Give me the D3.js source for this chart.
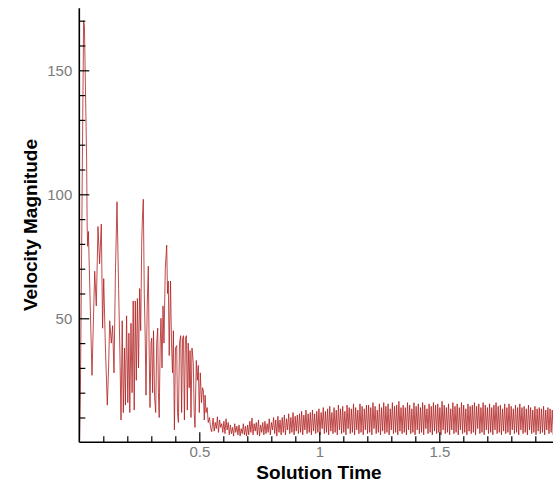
<!DOCTYPE html>
<html lang="en">
<head>
    <meta charset="UTF-8">
    <title>Velocity Magnitude vs Solution Time</title>
    <script src="https://d3js.org/d3.v7.min.js"></script>
    <style>
        body { margin: 0; background: #fff; }
        .tick text { font-family: "Liberation Sans", Arial, sans-serif; font-size: 15px; fill: #7a7a7a; }
        .title { font-family: "Liberation Sans", Arial, sans-serif; font-size: 19px; font-weight: bold; fill: #000; }
    </style>
</head>
<body>
<div class="chart"></div>
<script>
    var width = 553;
    var height = 485;

    // burst phase: [solution time, velocity magnitude]
    var burstPhase = [
        [0.0013, 1], [0.0046, 20], [0.0179, 170], [0.0213, 168], [0.0304, 115], [0.0329, 86],
        [0.0350, 79], [0.0379, 85], [0.0529, 27], [0.0642, 69], [0.0708, 55], [0.0779, 87],
        [0.0846, 72], [0.0917, 88], [0.0971, 46], [0.1017, 66], [0.1083, 40], [0.1167, 15],
        [0.1221, 30], [0.1267, 49], [0.1333, 40], [0.1388, 47], [0.1446, 28], [0.1508, 70],
        [0.1571, 97], [0.1638, 62], [0.1692, 36], [0.1738, 9], [0.1788, 49], [0.1833, 12],
        [0.1883, 38], [0.1921, 15], [0.1971, 51], [0.2021, 16], [0.2067, 44], [0.2104, 12],
        [0.2154, 48], [0.2200, 20], [0.2246, 57], [0.2288, 13], [0.2333, 57], [0.2375, 25],
        [0.2421, 58], [0.2467, 30], [0.2513, 62], [0.2558, 45], [0.2600, 80], [0.2629, 90],
        [0.2667, 98], [0.2708, 60], [0.2750, 40], [0.2779, 19], [0.2829, 55], [0.2875, 71],
        [0.2913, 35], [0.2946, 14], [0.2988, 40], [0.3017, 42], [0.3054, 20], [0.3092, 45],
        [0.3138, 18], [0.3183, 12], [0.3225, 40], [0.3267, 46], [0.3296, 20], [0.3329, 10],
        [0.3371, 40], [0.3404, 50], [0.3446, 30], [0.3488, 55], [0.3529, 40], [0.3583, 70],
        [0.3642, 79.5], [0.3675, 60], [0.3708, 65], [0.3746, 35], [0.3800, 65], [0.3842, 40],
        [0.3883, 28], [0.3921, 45], [0.3963, 5], [0.4008, 38], [0.4058, 39], [0.4092, 12],
        [0.4129, 8], [0.4175, 40], [0.4225, 43], [0.4263, 12], [0.4304, 42], [0.4342, 43],
        [0.4379, 9], [0.4421, 42], [0.4463, 43], [0.4500, 13], [0.4538, 40], [0.4579, 22],
        [0.4617, 37], [0.4654, 10], [0.4696, 38], [0.4750, 32], [0.4787, 12], [0.4821, 6],
        [0.4875, 33], [0.4917, 25], [0.4958, 31], [0.5000, 12], [0.5042, 28], [0.5092, 16],
        [0.5133, 22], [0.5167, 21], [0.5208, 9], [0.5242, 19], [0.5279, 12], [0.5329, 14],
        [0.5371, 8], [0.5425, 10], [0.5467, 6], [0.5517, 4.3]
    ];

    // settled phase: evenly sampled output, one value every settledStep
    var settledStart = 0.5575;
    var settledStep = 0.0045;
    var settledPhase = [
        9.8, 4.5, 8, 5.5, 10.3, 4, 9, 6, 7.5, 4, 8.5, 3.5, 9.5, 5, 8, 3,
        7, 3.5, 6, 2.5, 7.5, 4, 6.5, 3, 7, 2.5, 5.5, 3.5, 7.5, 3, 6.5, 2.5,
        7, 3, 8.5, 4, 9.8, 3, 7.5, 4.5, 8, 3, 9, 2.5, 7, 4, 8, 3,
        8.5, 3.5, 7.5, 4, 9.5, 3, 8, 5, 10, 3.5, 9, 2.5, 10.5, 4, 9, 3,
        10, 4, 11, 3, 9.5, 5, 11.5, 3.5, 10, 4, 12, 3, 10.5, 4.5, 11, 3.5,
        11.5, 4, 12.5, 3, 11, 5, 13, 3.5, 11.5, 4, 12, 3, 13, 4.5, 11.5, 3.5,
        12.5, 4, 13.5, 3, 12, 5.5, 14, 3.5, 12.5, 4, 13.5, 3, 14.5, 4.5, 12, 3.5,
        14, 4, 13, 3, 15, 5, 13.5, 3.5, 14.5, 4, 12.5, 3, 15, 5.5, 14, 3.5,
        13.5, 4, 15.5, 3, 14, 5, 13, 3.5, 15.5, 4, 14.5, 3, 13.5, 5, 15, 3.5,
        15, 4, 14, 3, 16, 5.5, 14.5, 3.5, 13, 4, 15.5, 3, 14, 4.5, 16, 3.5,
        14.5, 4, 15.5, 3, 13.5, 5, 16, 3.5, 14.5, 4, 15, 3, 16.5, 4.5, 14, 3.5,
        15, 4, 14, 3, 16, 5, 15, 3.5, 13.5, 4, 16, 3, 14.5, 5, 15.5, 3.5,
        14, 4, 16, 3, 15, 5.5, 13.5, 3.5, 15.5, 4, 14.5, 3, 16, 4.5, 15, 3.5,
        15.5, 4, 14, 3, 16.5, 5, 15, 3.5, 14, 4, 15.5, 3, 13.5, 5, 16, 3.5,
        14.5, 4, 15.5, 3, 14, 5, 16, 3.5, 15, 4, 13.5, 3, 15.5, 4.5, 14.5, 3.5,
        15, 4, 16, 3, 14.5, 5.5, 15.5, 3.5, 14, 4, 16, 3, 15, 5, 14, 3.5,
        15.5, 4, 14, 3, 15, 5, 16, 3.5, 14.5, 4, 15, 3, 13.5, 4.5, 15.5, 3.5,
        14, 4, 15.5, 3, 14.5, 5, 13.5, 3.5, 15, 4, 14, 3, 15.5, 5, 14, 3.5,
        14.5, 4, 13.5, 3, 15, 5, 14, 3.5, 13, 4, 14.5, 3, 13.5, 4.5, 14, 3.5,
        13.5, 4, 14.5, 3, 13, 5, 14, 3.5, 13.5, 4, 13, 3, 14, 4.5, 13.5, 3.5
    ];

    var xMajorTicks = [0.5, 1, 1.5];
    var xMinorTicks = [0.1, 0.2, 0.3, 0.4, 0.6, 0.7, 0.8, 0.9, 1.1, 1.2, 1.3, 1.4, 1.6, 1.7, 1.8, 1.9];
    var yMajorTicks = [50, 100, 150];
    var yMinorTicks = [10, 20, 30, 40, 60, 70, 80, 90, 110, 120, 130, 140, 160, 170];

    var points = burstPhase.slice();
    settledPhase.forEach(function (v, i) {
        points.push([settledStart + i * settledStep, v]);
    });

    var svg = d3.select('.chart')
        .append('svg')
        .attr('width', width)
        .attr('height', height);

    var xscale = d3.scaleLinear().domain([0, 2]).range([79.3, 559.3]);
    var yscale = d3.scaleLinear().domain([0, 175]).range([442.3, 8.3]);

    svg.append('clipPath')
        .attr('id', 'plotclip')
        .append('rect')
        .attr('x', xscale(0))
        .attr('y', 0)
        .attr('width', width - xscale(0))
        .attr('height', yscale(0));

    var line = d3.line()
        .x(function (d) { return xscale(d[0]); })
        .y(function (d) { return yscale(d[1]); });

    svg.append('path')
        .datum(points)
        .attr('clip-path', 'url(#plotclip)')
        .attr('d', line)
        .attr('fill', 'none')
        .attr('stroke', '#b01e1e')
        .attr('stroke-width', 0.8)
        .attr('stroke-linejoin', 'round');

    // minor ticks
    svg.append('g')
        .attr('transform', 'translate(0,' + yscale(0) + ')')
        .call(d3.axisBottom(xscale).tickValues(xMinorTicks).tickSize(-6).tickFormat(''))
        .call(function (g) { g.select('.domain').remove(); });

    svg.append('g')
        .attr('transform', 'translate(' + xscale(0) + ',0)')
        .call(d3.axisLeft(yscale).tickValues(yMinorTicks).tickSize(-6).tickFormat(''))
        .call(function (g) { g.select('.domain').remove(); });

    // major ticks with labels
    var xaxis = svg.append('g')
        .attr('transform', 'translate(0,' + yscale(0) + ')')
        .call(d3.axisBottom(xscale).tickValues(xMajorTicks).tickSize(-10).tickPadding(4)
            .tickFormat(function (d) { return String(d); }));
    xaxis.select('.domain').remove();

    var yaxis = svg.append('g')
        .attr('transform', 'translate(' + xscale(0) + ',0)')
        .call(d3.axisLeft(yscale).tickValues(yMajorTicks).tickSize(-10).tickPadding(7));
    yaxis.select('.domain').remove();

    svg.selectAll('.tick line').attr('stroke', '#000').attr('stroke-width', 1.2);

    // axis lines
    svg.append('line')
        .attr('x1', xscale(0)).attr('x2', width)
        .attr('y1', yscale(0)).attr('y2', yscale(0))
        .attr('stroke', '#000').attr('stroke-width', 1.6);
    svg.append('line')
        .attr('x1', xscale(0)).attr('x2', xscale(0))
        .attr('y1', yscale(175)).attr('y2', yscale(0))
        .attr('stroke', '#000').attr('stroke-width', 1.6);

    // axis titles
    svg.append('text')
        .attr('class', 'title')
        .attr('text-anchor', 'middle')
        .attr('x', 319)
        .attr('y', 479)
        .text('Solution Time');

    svg.append('text')
        .attr('class', 'title')
        .attr('text-anchor', 'middle')
        .attr('transform', 'translate(37,225) rotate(-90)')
        .text('Velocity Magnitude');
</script>
</body>
</html>
